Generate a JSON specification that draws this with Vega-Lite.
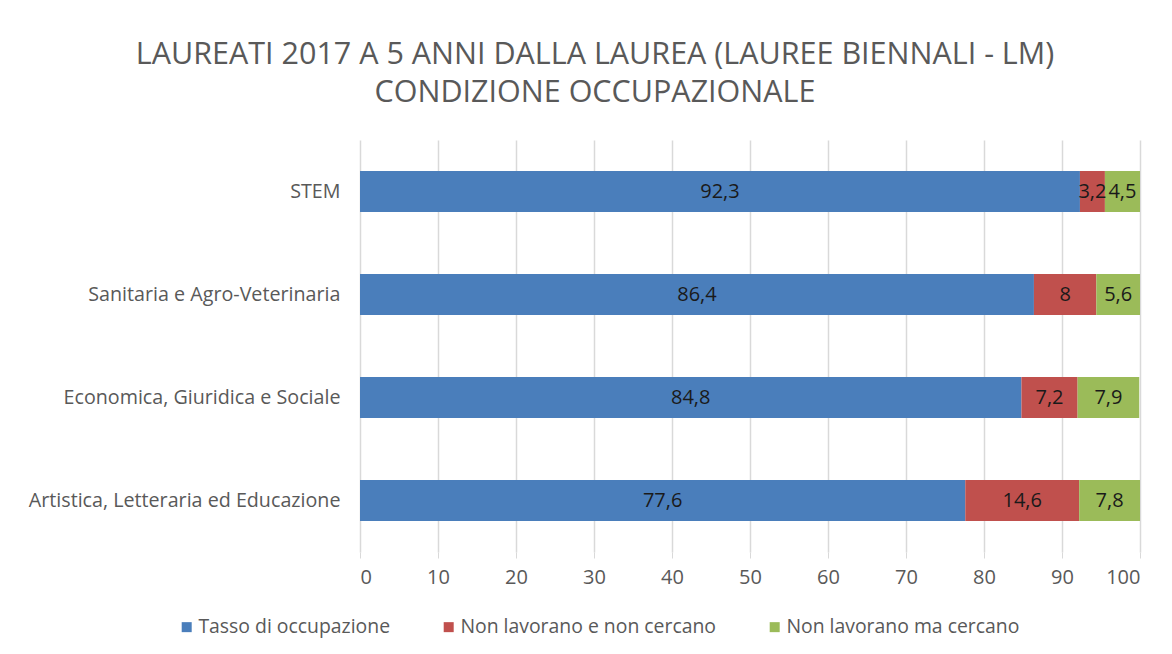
{
  "$schema": "https://vega.github.io/schema/vega-lite/v6.json",
  "width": 780,
  "height": 412,
  "autosize": {"type": "none"},
  "padding": {"left": 360, "top": 140, "right": 32, "bottom": 102},
  "background": "#ffffff",
  "title": {
    "text": ["LAUREATI 2017 A 5 ANNI DALLA LAUREA (LAUREE BIENNALI - LM)", "CONDIZIONE OCCUPAZIONALE"],
    "anchor": "middle",
    "frame": "group",
    "dx": -155,
    "offset": 32,
    "font": "Open Sans",
    "fontSize": 30.5,
    "fontWeight": "normal",
    "color": "#595959",
    "lineHeight": 38
  },
  "config": {
    "locale": {"number": {"decimal": ",", "thousands": ".", "grouping": [3], "currency": ["€", ""]}},
    "view": {"stroke": null},
    "font": "Open Sans"
  },
  "data": {
    "values": [
      {"area": "STEM", "serie": "Tasso di occupazione", "k": 1, "valore": 92.3},
      {"area": "STEM", "serie": "Non lavorano e non cercano", "k": 2, "valore": 3.2},
      {"area": "STEM", "serie": "Non lavorano ma cercano", "k": 3, "valore": 4.5},
      {"area": "Sanitaria e Agro-Veterinaria", "serie": "Tasso di occupazione", "k": 1, "valore": 86.4},
      {"area": "Sanitaria e Agro-Veterinaria", "serie": "Non lavorano e non cercano", "k": 2, "valore": 8},
      {"area": "Sanitaria e Agro-Veterinaria", "serie": "Non lavorano ma cercano", "k": 3, "valore": 5.6},
      {"area": "Economica, Giuridica e Sociale", "serie": "Tasso di occupazione", "k": 1, "valore": 84.8},
      {"area": "Economica, Giuridica e Sociale", "serie": "Non lavorano e non cercano", "k": 2, "valore": 7.2},
      {"area": "Economica, Giuridica e Sociale", "serie": "Non lavorano ma cercano", "k": 3, "valore": 7.9},
      {"area": "Artistica, Letteraria ed Educazione", "serie": "Tasso di occupazione", "k": 1, "valore": 77.6},
      {"area": "Artistica, Letteraria ed Educazione", "serie": "Non lavorano e non cercano", "k": 2, "valore": 14.6},
      {"area": "Artistica, Letteraria ed Educazione", "serie": "Non lavorano ma cercano", "k": 3, "valore": 7.8}
    ]
  },
  "encoding": {
    "y": {
      "field": "area",
      "type": "nominal",
      "sort": ["STEM", "Sanitaria e Agro-Veterinaria", "Economica, Giuridica e Sociale", "Artistica, Letteraria ed Educazione"],
      "scale": {"paddingInner": 0.6, "paddingOuter": 0.3},
      "axis": {
        "title": null,
        "domain": false,
        "ticks": false,
        "labelPadding": 20,
        "labelFontSize": 19.7,
        "labelColor": "#595959",
        "labelFont": "Open Sans",
        "labelLimit": 400
      }
    }
  },
  "layer": [
    {
      "mark": {"type": "bar"},
      "encoding": {
        "x": {
          "field": "valore",
          "type": "quantitative",
          "stack": "zero",
          "scale": {"domain": [0, 100], "nice": false},
          "axis": {
            "title": null,
            "values": [0, 10, 20, 30, 40, 50, 60, 70, 80, 90, 100],
            "grid": true,
            "gridColor": "#d9d9d9",
            "gridWidth": 1.5,
            "domain": false,
            "ticks": true,
            "tickColor": "#d9d9d9",
            "tickSize": 6,
            "labelPadding": 9,
            "labelFontSize": 20,
            "labelColor": "#595959",
            "labelFont": "Open Sans"
          }
        },
        "color": {
          "field": "serie",
          "type": "nominal",
          "scale": {
            "domain": ["Tasso di occupazione", "Non lavorano e non cercano", "Non lavorano ma cercano"],
            "range": ["#4a7ebb", "#c0504d", "#9bbb59"]
          },
          "legend": {
            "title": null,
            "orient": "none",
            "direction": "horizontal",
            "legendX": -183,
            "legendY": 477,
            "symbolType": "square",
            "symbolSize": 100,
            "symbolStrokeWidth": 0,
            "labelFontSize": 19.4,
            "labelColor": "#595959",
            "labelFont": "Open Sans",
            "labelOffset": 2,
            "columnPadding": 48,
            "labelLimit": 400
          }
        },
        "order": {"field": "k", "type": "quantitative"}
      }
    },
    {
      "mark": {"type": "text", "fontSize": 20, "color": "#1a1a1a", "font": "Open Sans"},
      "encoding": {
        "x": {"field": "valore", "type": "quantitative", "stack": "zero", "bandPosition": 0.5},
        "text": {"field": "valore", "type": "quantitative", "format": ".3~r"},
        "detail": {"field": "serie"},
        "order": {"field": "k", "type": "quantitative"}
      }
    }
  ]
}
